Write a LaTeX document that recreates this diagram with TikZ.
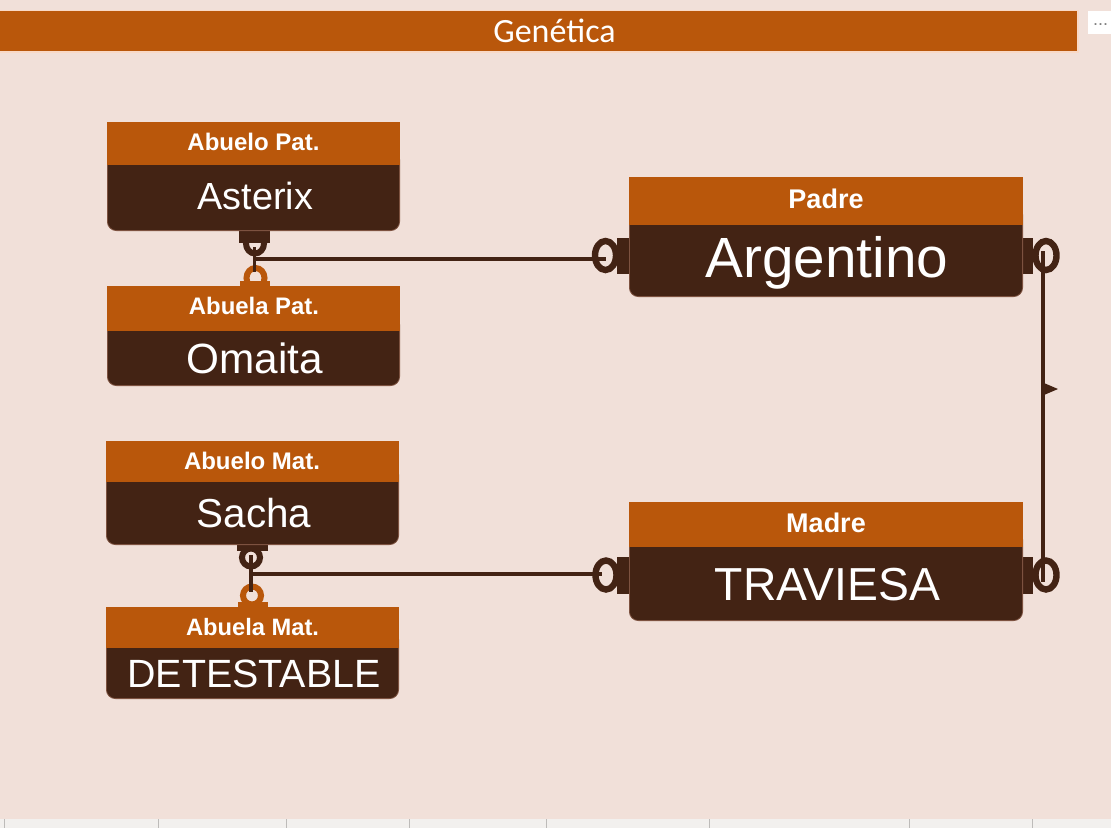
\documentclass[tikz,border=0pt]{standalone}
\usepackage{fontspec}
\setmainfont{Liberation Sans}
\newfontfamily\titlefont{Carlito}
\usetikzlibrary{fit,shapes.geometric}
\definecolor{bgc}{HTML}{F1E0D9}
\definecolor{orc}{HTML}{B9570B}
\definecolor{drk}{HTML}{432314}
\definecolor{edgec}{HTML}{7D5240}
\definecolor{stripc}{HTML}{F2F0EE}
\definecolor{tickc}{HTML}{BDBBB9}
\definecolor{fringe}{HTML}{F9D9C6}
\newcommand{\fs}[1]{\fontsize{#1}{#1}\selectfont}
\tikzset{
  x=1pt,y=-1pt,
  box/.style={inner sep=0pt,outer sep=0pt,draw=none},
  head/.style={box,fill=orc},
  bodybox/.style={box,inner sep=-.4pt,fill=drk,draw=edgec,line width=.8pt,rounded corners=9pt},
  stubd/.style={box,fill=drk},
  stubo/.style={box,fill=orc},
  ttl/.style={anchor=base,text=white,inner sep=0pt,font=\bfseries},
  val/.style={anchor=base,text=white,inner sep=0pt},
  bigring/.style={ellipse,draw=drk,line width=6.4pt,inner sep=0pt,outer sep=0pt,minimum width=21pt,minimum height=29pt},
  smallring/.style={ellipse,line width=6pt,inner sep=0pt,outer sep=0pt,minimum width=18pt,minimum height=18pt},
  conn/.style={draw=drk,line width=3.5pt},
}
\begin{document}
\begin{tikzpicture}
\useasboundingbox (0,0) rectangle (1111,828);
\fill[bgc] (0,0) rectangle (1111,828);
% bottom strip
\fill[stripc] (0,819) rectangle (1111,828);
\foreach \t in {4,158,286,409,546,709,909,1032}{\draw[tickc,line width=.8pt] (\t,819) -- (\t,828);}
% title bar
\fill[fringe] (0,10) rectangle (1078.5,52.5);
\node[box,fill=orc,fit={(0,11)(1077,51)}] (bar) {};
\node[anchor=base,text=white,inner sep=0pt,font=\titlefont\fs{34}] (bartitle) at (554.5,42) {Genética};
\node[box,fill=white,fit={(1088,11)(1111,34)}] (menu) {};
\node[anchor=base,inner sep=0pt,text=gray,font=\fs{18}] (menutext) at (1100.5,25.5) {...};
% stubs and rings
\node[smallring,draw=drk,minimum height=20pt] (r1) at (255,243.5) {};
\node[stubd,fit={(239,231)(270,243)}] (s1) {};
\node[smallring,draw=orc,minimum height=20pt] (r2) at (255.5,278) {};
\node[stubo,fit={(240,281)(270,286)}] (s2) {};
\node[smallring,draw=drk] (r3) at (251,557.5) {};
\node[stubd,fit={(237,545)(268,551)}] (s3) {};
\node[smallring,draw=orc] (r4) at (252,595.5) {};
\node[stubo,fit={(238,602)(268,607)}] (s4) {};
\node[bigring] (r5) at (605.5,255.5) {};
\node[stubd,fit={(617,238)(630,274)}] (s5) {};
\node[bigring] (r6) at (1046,255.5) {};
\node[stubd,fit={(1022,238)(1033,274)}] (s6) {};
\node[bigring] (r7) at (606,575) {};
\node[stubd,fit={(617,557)(630,594)}] (s7) {};
\node[bigring] (r8) at (1046,575) {};
\node[stubd,fit={(1022,557)(1033,594)}] (s8) {};
% entities
\node[bodybox,fit={(107,150)(400,231)}] (b1) {};
\node[head,fit={(107,122)(400,165)}] (h1) {};
\node[ttl,font=\bfseries\fs{24}] (t1) at (253.5,150) {Abuelo Pat.};
\node[val,font=\fs{37.8}] (v1) at (255.5,209) {Asterix};
\node[bodybox,fit={(107,315)(400,386)}] (b2) {};
\node[head,fit={(107,286)(400,331)}] (h2) {};
\node[ttl,font=\bfseries\fs{23.9}] (t2) at (254,314) {Abuela Pat.};
\node[val,font=\fs{42.3}] (v2) at (255,373) {Omaita};
\node[bodybox,fit={(106,465)(399,545)}] (b3) {};
\node[head,fit={(106,441)(399,482)}] (h3) {};
\node[ttl,font=\bfseries\fs{24}] (t3) at (252,469) {Abuelo Mat.};
\node[val,font=\fs{40.4}] (v3) at (254,527) {Sacha};
\node[bodybox,fit={(106,630)(399,699)}] (b4) {};
\node[head,fit={(106,607)(399,648)}] (h4) {};
\node[ttl,font=\bfseries\fs{23.7}] (t4) at (252.5,635) {Abuela Mat.};
\node[val,font=\fs{39.4}] (v4) at (254,687) {DETESTABLE};
\node[bodybox,fit={(629,205)(1023,297)}] (b5) {};
\node[head,fit={(629,177)(1023,225)}] (h5) {};
\node[ttl,font=\bfseries\fs{27}] (t5) at (826,208) {Padre};
\node[val,font=\fs{56.7}] (v5) at (827,277) {Argentino};
\node[bodybox,fit={(629,530)(1023,621)}] (b6) {};
\node[head,fit={(629,502)(1023,547)}] (h6) {};
\node[ttl,font=\bfseries\fs{27}] (t6) at (826,532) {Madre};
\node[val,font=\fs{46.3}] (v6) at (827.5,600) {TRAVIESA};
% connectors
\coordinate (j1) at (254.5,259);
\coordinate (j2) at (251,574);
\coordinate (pe) at (1043,251);
\coordinate (me) at (1043,582);
\draw[conn] (254.5,247) -- (254.5,272);
\draw[conn] (j1) -- (j1 -| r5.center);
\draw[conn] (251,555) -- (251,592);
\draw[conn] (j2) -- ([xshift=-4pt]j2 -| r7.center);
\draw[conn] (pe) -- (me);
\fill[drk] (1044,383) -- (1058,389) -- (1044,395) -- cycle;
\end{tikzpicture}
\end{document}
